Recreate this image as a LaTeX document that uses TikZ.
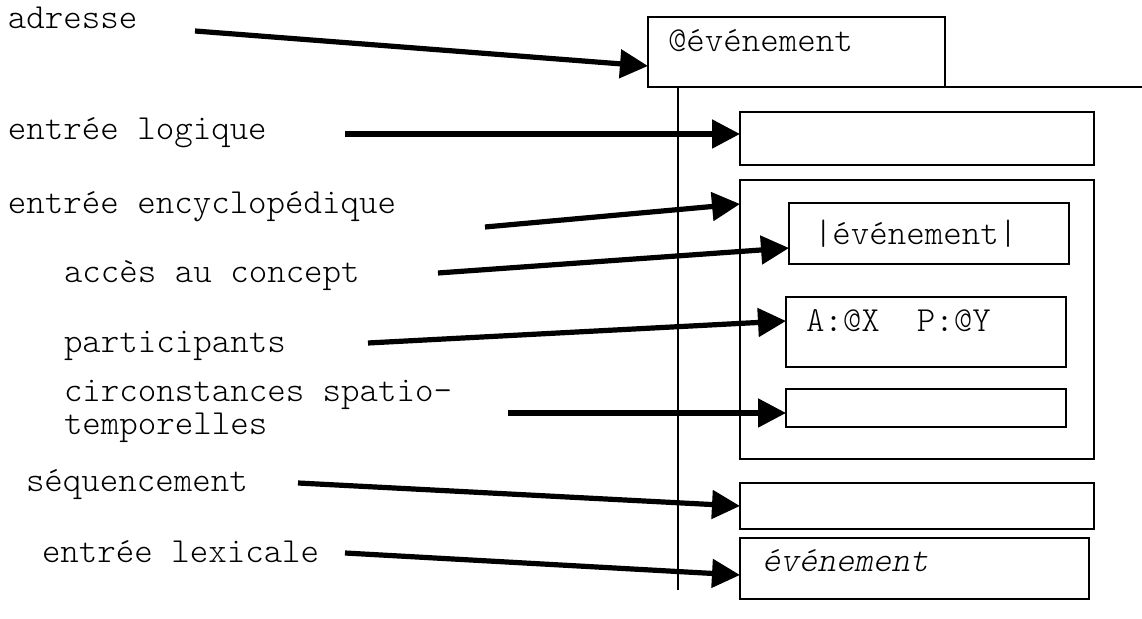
\documentclass[tikz,border=0pt]{standalone}
\usepackage{fontspec}
\setmainfont{Latin Modern Mono Light}[ItalicFont={Latin Modern Mono Light}, ItalicFeatures={FakeSlant=0.2}]
\usepackage{tikz}
\usetikzlibrary{positioning, calc, arrows.meta}

\begin{document}
\begin{tikzpicture}[x=0.5pt, y=-0.5pt]
  \tikzstyle{lbl}=[anchor=base west, inner sep=0pt, outer sep=0pt, font=\fontsize{17.6}{16.5}\selectfont]
  \tikzstyle{fieldbox}=[draw, line width=0.7pt, anchor=north west, inner sep=0pt, outer sep=0pt]
  \tikzstyle{pointer}=[line width=2.6pt, -{Triangle[length=14pt, width=14pt]}]
  \tikzstyle{frame}=[line width=0.7pt]
  \useasboundingbox (0, 0) rectangle (1142, 619);

  % labels on the left
  \node (adr) at (8, 29) [lbl] {adresse};
  \node (log) at (8, 140) [lbl] {entrée logique};
  \node (enc) at (8, 214) [lbl] {entrée encyclopédique};
  \node (acc) at (64, 283) [lbl] {accès au concept};
  \node (par) at (64, 353) [lbl] {participants};
  \node (cir) at (64, 402) [lbl] {\begin{tabular}[t]{@{}l@{}}circonstances spatio-\\temporelles\end{tabular}};
  \node (seq) at (26, 492) [lbl] {séquencement};
  \node (lex) at (42, 563) [lbl] {entrée lexicale};

  % the entry
  \node (adrbox) at (648, 17) [fieldbox, minimum width=148.5pt, minimum height=35pt] {};
  \node (adrtxt) at (668, 52) [lbl] {@événement};
  \coordinate (spinetop) at (678, 87);
  \coordinate (spinebot) at (678, 590);
  \coordinate (rightend) at (1142, 87);
  \draw[frame] (spinetop) -- (spinebot);
  \draw[frame] (adrbox.south east) -- (rightend);

  \node (logbox) at (740, 112) [fieldbox, minimum width=177pt, minimum height=26.5pt] {};
  \node (encbox) at (740, 180) [fieldbox, minimum width=177pt, minimum height=139.5pt] {};
  \node (accbox) at (789, 203) [fieldbox, minimum width=140pt, minimum height=30.5pt] {};
  \node (acctxt) at (814, 245) [lbl] {|événement|};
  \node (parbox) at (786, 297) [fieldbox, minimum width=140pt, minimum height=35pt] {};
  \node (partxt) at (806, 332) [lbl] {A:@X~~P:@Y};
  \node (cirbox) at (786, 389) [fieldbox, minimum width=140pt, minimum height=19pt] {};
  \node (seqbox) at (740, 483) [fieldbox, minimum width=177pt, minimum height=23pt] {};
  \node (lexbox) at (740, 538) [fieldbox, minimum width=174.5pt, minimum height=30.5pt] {};
  \node (lextxt) at (762, 572) [lbl] {\itshape événement};

  % arrows
  \coordinate (adrstart) at (195, 31);
  \coordinate (logstart) at (345, 134);
  \coordinate (encstart) at (485, 227);
  \coordinate (accstart) at (438, 273);
  \coordinate (parstart) at (368, 343);
  \coordinate (cirstart) at (508, 413);
  \coordinate (seqstart) at (298, 483);
  \coordinate (lexstart) at (345, 553);

  \draw[pointer] (adrstart) -- ([yshift=-7pt]adrbox.west);
  \draw[pointer] (logstart) -- (logstart -| logbox.west);
  \draw[pointer] (encstart) -- ([yshift=57.75pt]encbox.west);
  \draw[pointer] (accstart) -- ([yshift=-7.25pt]accbox.west);
  \draw[pointer] (parstart) -- ([yshift=5.5pt]parbox.west);
  \draw[pointer] (cirstart) -- (cirstart -| cirbox.west);
  \draw[pointer] (seqstart) -- (seqbox.west);
  \draw[pointer] (lexstart) -- ([yshift=-3.25pt]lexbox.west);
\end{tikzpicture}
\end{document}
